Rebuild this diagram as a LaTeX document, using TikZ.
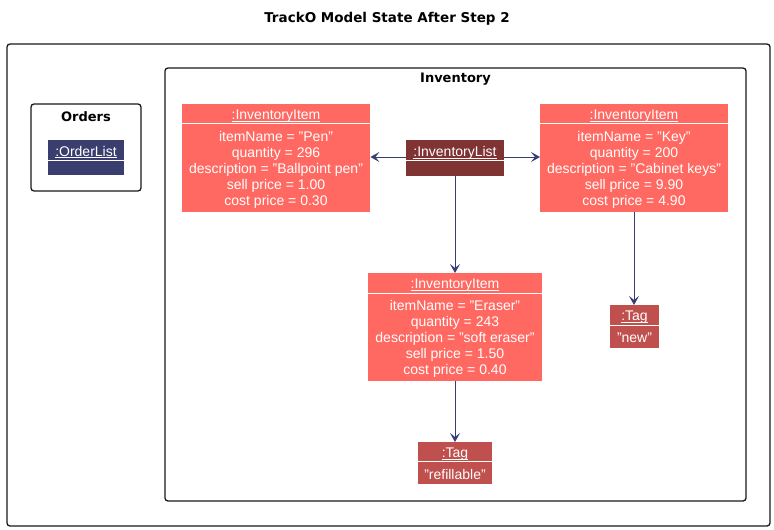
\documentclass[tikz,border=0pt]{standalone}
\usepackage{fontspec}
\setmainfont{Liberation Sans}
\newfontfamily\titlefont{DejaVu Sans}
\usetikzlibrary{arrows.meta,calc}
\definecolor{itemred}{HTML}{FF6961}
\definecolor{listred}{HTML}{7F3333}
\definecolor{tagred}{HTML}{C0504D}
\definecolor{orderblue}{HTML}{3A3E6E}
\definecolor{arrowblue}{HTML}{383E72}
\newcommand\ulhdr[1]{\underline{\smash{#1}}}
\tikzset{
  frame/.style={draw=black!90, line width=1.3pt, rounded corners=3pt, fill=white},
  obj/.style={rectangle, inner sep=0pt, anchor=north west, draw=none},
  itembox/.style={obj, fill=itemred},
  listbox/.style={obj, fill=listred},
  tagbox/.style={obj, fill=tagred},
  orderbox/.style={obj, fill=orderblue},
  hdr/.style={text=white, inner sep=0pt, anchor=base, font=\fontsize{14}{16}\selectfont},
  body/.style={text=white, inner sep=0pt, align=center, font=\fontsize{14}{16}\selectfont},
  ttl/.style={inner sep=0pt, font=\titlefont\bfseries\fontsize{13}{15}\selectfont},
  divider/.style={draw=white, line width=1pt},
  link/.style={draw=arrowblue, line width=1pt, -{Stealth[length=9pt,width=10pt,inset=4pt]}}
}
\begin{document}
\begin{tikzpicture}[x=1pt,y=-1pt]
\useasboundingbox (0,0) rectangle (774,530);
% title
\node[ttl, font=\titlefont\bfseries\fontsize{13.5}{15}\selectfont] (title) at (387,18.5) {TrackO Model State After Step 2};
% frames
\draw[frame] (7,44) rectangle (770,526);
\draw[frame] (165,68) rectangle (746,501);
\node[ttl] (invtitle) at (455.5,79.5) {Inventory};
\draw[frame] (31,104) rectangle (141,191);
\node[ttl] (ordtitle) at (86,116.5) {Orders};

% OrderList
\node[orderbox, minimum width=76pt, minimum height=35pt] (orders) at (48,140) {};
\node[hdr] (ordershdr) at (86,156) {\ulhdr{:OrderList}};
\draw[divider] (48,160) -- (124,160);

% InventoryList
\node[listbox, minimum width=98pt, minimum height=36pt] (list) at (406,140) {};
\node[hdr] (listhdr) at (455,156.5) {\ulhdr{:InventoryList}};
\draw[divider] (406,160.5) -- (504,160.5);

% Pen
\node[itembox, minimum width=188pt, minimum height=108pt] (pen) at (182,104) {};
\node[hdr] (penhdr) at (276,119.5) {\ulhdr{:InventoryItem}};
\draw[divider] (182,123) -- (370,123);
\node[body] (penbody) at (276,169.5) {itemName = "Pen"\\quantity = 296\\description = "Ballpoint pen"\\sell price = 1.00\\cost price = 0.30};

% Key
\node[itembox, minimum width=188pt, minimum height=108pt] (key) at (540,104) {};
\node[hdr] (keyhdr) at (634,119.5) {\ulhdr{:InventoryItem}};
\draw[divider] (540,123) -- (728,123);
\node[body] (keybody) at (634,169.5) {itemName = "Key"\\quantity = 200\\description = "Cabinet keys"\\sell price = 9.90\\cost price = 4.90};

% Eraser
\node[itembox, minimum width=174pt, minimum height=108pt] (eraser) at (368,273) {};
\node[hdr] (eraserhdr) at (455,288.5) {\ulhdr{:InventoryItem}};
\draw[divider] (368,293) -- (542,293);
\node[body] (eraserbody) at (455,339) {itemName = "Eraser"\\quantity = 243\\description = "soft eraser"\\sell price = 1.50\\cost price = 0.40};

% Tag new
\node[tagbox, minimum width=49pt, minimum height=43pt] (tagnew) at (610,305) {};
\node[hdr] (tagnewhdr) at (634.5,320.5) {\ulhdr{:Tag}};
\draw[divider] (610,325) -- (659,325);
\node[hdr] (tagnewbody) at (634.5,342) {"new"};

% Tag refillable
\node[tagbox, minimum width=74pt, minimum height=42pt] (tagref) at (418,442) {};
\node[hdr] (tagrefhdr) at (455,457.5) {\ulhdr{:Tag}};
\draw[divider] (418,461.5) -- (492,461.5);
\node[hdr] (tagrefbody) at (455,479) {"refillable"};

% links
\draw[link] (list.west |- 0,157) -- (pen.east |- 0,157);
\draw[link] (list.east |- 0,157) -- (key.west |- 0,157);
\draw[link] (list.south -| 455,0) -- (eraser.north -| 455,0);
\draw[link] (key.south -| 634,0) -- (tagnew.north -| 634,0);
\draw[link] (eraser.south -| 455,0) -- (tagref.north -| 455,0);
\end{tikzpicture}
\end{document}
